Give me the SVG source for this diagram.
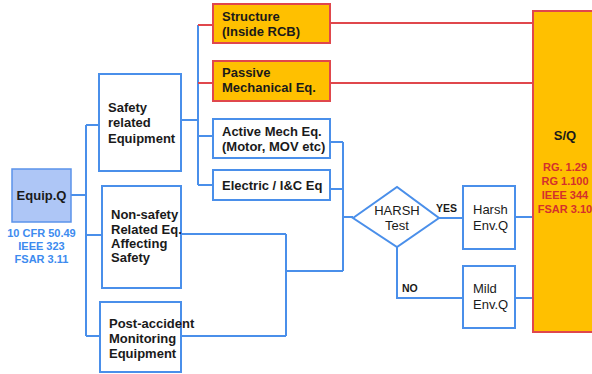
<svg xmlns="http://www.w3.org/2000/svg" width="592" height="374" viewBox="0 0 592 374">
  <style>
    .box { fill: #ffffff; stroke: #4a8fea; stroke-width: 2; }
    .sq { fill: #ffc000; stroke: #e0474c; stroke-width: 2; }
    .eq { fill: #aec6f6; stroke: #5b93ea; stroke-width: 1.5; }
    .blue { fill: none; stroke: #4a8fea; stroke-width: 2; }
    .red { fill: none; stroke: #e0474c; stroke-width: 2; }
    text { font-family: "Liberation Sans", Arial, sans-serif; fill: #1a1a1a; }
    .b { font-size: 13px; font-weight: bold; }
    .n { font-size: 13px; }
    .ref { font-size: 11px; font-weight: bold; fill: #3d8bef; text-anchor: middle; }
    .refr { font-size: 11px; font-weight: bold; fill: #d4302c; text-anchor: middle; }
    .lbl { font-size: 10.5px; font-weight: bold; }
  </style>
  <rect width="592" height="374" fill="#ffffff"/>

  <!-- connectors -->
  <g id="connectors">
    <path class="blue" d="M71 195 H86 M86 125 V336 M86 125 H99 M86 235 H102 M86 336 H100"/>
    <path class="blue" d="M181 120 H198 M198 25 V185 M198 136 H213 M198 185 H213"/>
    <path class="red" d="M198 25 H213 M198 83 H213"/>
    <path class="red" d="M330 23 H533 M330 83 H533"/>
    <path class="blue" d="M330 142 H343 M330 189 H343 M343 142 V271 M343 217 H353 M343 271 H286 M286 234 V336 M181 234 H286 M181 336 H286"/>
    <path class="blue" d="M439 218 H463 M397 247 V298 H463 M515 217 H533 M515 298 H533"/>
  </g>

  <!-- Equip.Q -->
  <g id="equipq">
    <rect class="eq" x="12" y="169" width="59" height="53"/>
    <text class="b" x="41.5" y="200" text-anchor="middle">Equip.Q</text>
    <text class="ref" x="41.5" y="237">10 CFR 50.49</text>
    <text class="ref" x="41.5" y="250">IEEE 323</text>
    <text class="ref" x="41.5" y="263">FSAR 3.11</text>
  </g>

  <g id="safety">
    <rect class="box" x="99" y="74" width="82" height="97"/>
    <text class="b" x="108" y="112">Safety</text>
    <text class="b" x="108" y="127">related</text>
    <text class="b" x="108" y="143">Equipment</text>
  </g>

  <g id="nonsafety">
    <rect class="box" x="102" y="186" width="79" height="102"/>
    <text class="b" x="111" y="219">Non-safety</text>
    <text class="b" x="111" y="234">Related Eq.</text>
    <text class="b" x="111" y="248">Affecting</text>
    <text class="b" x="111" y="262">Safety</text>
  </g>

  <g id="postaccident">
    <rect class="box" x="100" y="302" width="81" height="70"/>
    <text class="b" x="109" y="328">Post-accident</text>
    <text class="b" x="109" y="343">Monitoring</text>
    <text class="b" x="109" y="358">Equipment</text>
  </g>

  <g id="structure">
    <rect class="sq" x="213" y="4" width="117" height="39"/>
    <text class="b" x="222" y="21">Structure</text>
    <text class="b" x="222" y="36">(Inside RCB)</text>
  </g>

  <g id="passive">
    <rect class="sq" x="213" y="61" width="117" height="40"/>
    <text class="b" x="222" y="77">Passive</text>
    <text class="b" x="222" y="92">Mechanical Eq.</text>
  </g>

  <g id="active">
    <rect class="box" x="213" y="119" width="117" height="39"/>
    <text class="b" x="222" y="136">Active Mech Eq.</text>
    <text class="b" x="222" y="151">(Motor, MOV etc)</text>
  </g>

  <g id="electric">
    <rect class="box" x="213" y="170" width="117" height="30"/>
    <text class="b" x="222" y="190">Electric / I&amp;C Eq</text>
  </g>

  <g id="harshtest">
    <polygon class="box" points="353,218 397,187 439,218 397,247"/>
    <text class="n" x="397" y="215" text-anchor="middle">HARSH</text>
    <text class="n" x="397" y="230" text-anchor="middle">Test</text>
    <text class="lbl" x="436" y="212">YES</text>
    <text class="lbl" x="402" y="292">NO</text>
  </g>

  <g id="harsh">
    <rect class="box" x="463" y="186" width="52" height="63"/>
    <text class="n" x="473" y="214">Harsh</text>
    <text class="n" x="473" y="230">Env.Q</text>
  </g>

  <g id="mild">
    <rect class="box" x="463" y="266" width="52" height="62"/>
    <text class="n" x="473" y="293">Mild</text>
    <text class="n" x="473" y="309">Env.Q</text>
  </g>

  <g id="sq">
    <rect class="sq" x="533" y="11" width="70" height="321"/>
    <text class="b" x="565" y="140" text-anchor="middle">S/Q</text>
    <text class="refr" x="565" y="171">RG. 1.29</text>
    <text class="refr" x="565" y="185">RG 1.100</text>
    <text class="refr" x="565" y="199">IEEE 344</text>
    <text class="refr" x="565" y="213">FSAR 3.10</text>
  </g>
</svg>
